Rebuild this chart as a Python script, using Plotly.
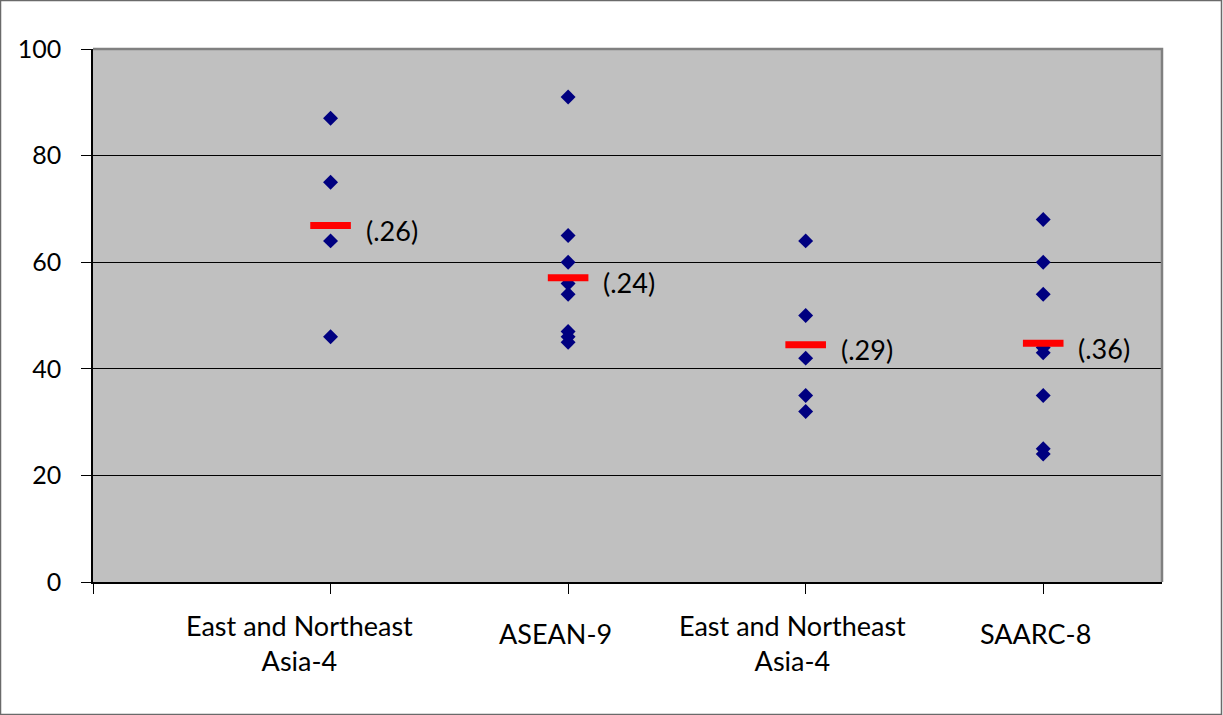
import plotly.graph_objects as go

# Regional groups shown along the x axis
categories = ["East and Northeast<br>Asia-4", "ASEAN-9", "East and Northeast<br>Asia-4", "SAARC-8"]

# Country values per group
group_values = [
    [87, 75, 64, 46],
    [91, 65, 60, 56, 54, 47, 46, 45],
    [64, 50, 42, 35, 32],
    [68, 60, 54, 44, 43, 35, 25, 24],
]

# Group averages (red dashes) and their coefficient-of-variation labels
group_means = [66.9, 57.1, 44.5, 44.8]
cv_labels = ["(.26)", "(.24)", "(.29)", "(.36)"]

y_ticks = [0, 20, 40, 60, 80, 100]

FONT = "Lato"
W, H = 1223, 715
ML, MR, MT, MB = 93, 61, 49, 133

fig = go.Figure()

# Individual country markers
for i, vals in enumerate(group_values):
    fig.add_trace(go.Scatter(
        x=[i + 1] * len(vals), y=vals, mode="markers",
        marker=dict(symbol="diamond", size=11.5, color="#000080"),
        showlegend=False, hoverinfo="y",
    ))

# Group averages as short red dashes
fig.add_trace(go.Scatter(
    x=[i + 1 for i in range(len(group_means))], y=group_means, mode="markers",
    marker=dict(symbol="line-ew", size=29, color="red",
                line=dict(color="red", width=7)),
    showlegend=False, hoverinfo="y",
))

annotations = []
# CV labels to the right of each dash
for i, (m, lab) in enumerate(zip(group_means, cv_labels)):
    annotations.append(dict(
        x=i + 1, y=m, xref="x", yref="y", text=lab, showarrow=False,
        xanchor="left", yanchor="middle", xshift=33, yshift=-5,
        font=dict(family=FONT, size=27, color="black"),
    ))

# Category labels below the axis
label_xshift = [-31, -13, -13, -8]
for i, cat in enumerate(categories):
    two_line = "<br>" in cat
    annotations.append(dict(
        x=i + 1, y=0, xref="x", yref="paper", text=cat, showarrow=False,
        xanchor="center", yanchor="middle", align="center",
        xshift=label_xshift[i], yshift=-61 if two_line else -51,
        font=dict(family=FONT, size=27, color="black"),
    ))

pw, ph = W - ML - MR, H - MT - MB
def px_x(p):
    return (p - ML) / pw
def px_y(p):
    return (H - MB - p) / ph

shapes = [
    # plot area top/right border
    dict(type="path", path="M 0,1 L 1,1 L 1,0", xref="paper", yref="paper",
         line=dict(color="#808080", width=2.5), layer="above"),
    # outer chart border
    dict(type="rect", xref="paper", yref="paper",
         x0=px_x(0.5), x1=px_x(W - 1.5), y0=px_y(0.5), y1=px_y(H - 0.5),
         line=dict(color="#6a6a6a", width=1.5), fillcolor="rgba(0,0,0,0)"),
]

fig.update_layout(
    width=W, height=H, autosize=False,
    margin=dict(l=ML, r=MR, t=MT, b=MB, pad=0),
    paper_bgcolor="white", plot_bgcolor="#C0C0C0",
    font=dict(family=FONT, size=27, color="black"),
    annotations=annotations, shapes=shapes,
    xaxis=dict(
        range=[0, 4.5], tickvals=[0, 1, 2, 3, 4], ticktext=["", "", "", "", ""],
        ticks="outside", ticklen=10, tickcolor="black", tickwidth=1,
        showline=True, linecolor="black", linewidth=2,
        showgrid=False, zeroline=False, fixedrange=True,
    ),
    yaxis=dict(
        range=[0, 100], tickvals=y_ticks,
        ticks="outside", ticklen=10, tickcolor="black", tickwidth=1,
        showline=True, linecolor="black", linewidth=1.5,
        showgrid=True, gridcolor="black", gridwidth=1,
        zeroline=False, ticklabelstandoff=15,
        tickfont=dict(family=FONT, size=25, color="black"),
    ),
)

fig.write_html("out.html")
